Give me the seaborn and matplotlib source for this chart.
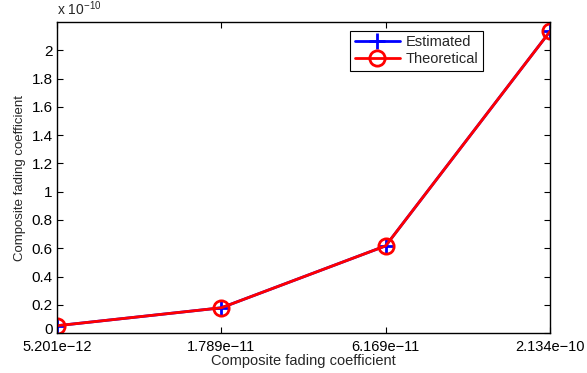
import matplotlib
matplotlib.use("Agg")
import matplotlib.pyplot as plt
import matplotlib.transforms as mtransforms
import seaborn as sns
import numpy as np

sns.set_style("white")
plt.rcParams['font.family'] = ['Liberation Sans', 'DejaVu Sans']
plt.rcParams['mathtext.fontset'] = 'custom'
plt.rcParams['mathtext.rm'] = 'Liberation Sans'

categories = ["5.201e\u221212", "1.789e\u221211", "6.169e\u221211", "2.134e\u221210"]
estimated = [5.201e-12, 1.789e-11, 6.169e-11, 2.134e-10]
theoretical = [5.201e-12, 1.789e-11, 6.169e-11, 2.134e-10]
scale = 1e-10
yticks = [0, 0.2, 0.4, 0.6, 0.8, 1, 1.2, 1.4, 1.6, 1.8, 2]
ytick_labels = ["0", "0.2", "0.4", "0.6", "0.8", "1", "1.2", "1.4", "1.6", "1.8", "2"]

fig = plt.figure(figsize=(5.87, 3.73), dpi=100)
ax = fig.add_axes([0.097, 0.107, 0.840, 0.834])

pos = np.arange(1, len(categories) + 1)
sns.lineplot(x=pos, y=np.array(estimated) / scale, ax=ax, color='blue', lw=2,
             marker='+', markersize=12, markeredgewidth=2, markeredgecolor='blue',
             label='Estimated', sort=False)
sns.lineplot(x=pos, y=np.array(theoretical) / scale, ax=ax, color='red', lw=2,
             marker='o', markersize=11, markeredgewidth=2, markerfacecolor='none',
             markeredgecolor='red', label='Theoretical', sort=False)

ax.set_xlim(1, 4)
ax.set_ylim(0, 2.2)
ax.set_xticks(pos)
ax.set_xticklabels(categories, fontsize=10.5)
ax.set_yticks(yticks)
ax.set_yticklabels(ytick_labels, fontsize=11)
ax.tick_params(direction='in', length=4, width=0.8, top=True, right=True,
               bottom=True, left=True, labeltop=False, labelright=False, pad=3, colors='black')
ax.tick_params(axis='x', pad=5)
for s in ax.spines.values():
    s.set_visible(True)
    s.set_color('black')
    s.set_linewidth(1.0)

# nudge the "0" y tick label up slightly so it doesn't collide with the first x label
zero_lbl = ax.get_yticklabels()[0]
zero_lbl.set_transform(zero_lbl.get_transform() +
                       mtransforms.ScaledTranslation(0, 3 / 72, fig.dpi_scale_trans))

ax.set_xlabel("Composite fading coefficient", fontsize=10.5, labelpad=0)
ax.set_ylabel("Composite fading coefficient", fontsize=9.5, labelpad=4)
ax.text(0.0, 1.012, r"x 10$^{-10}$", transform=ax.transAxes, fontsize=10,
        ha='left', va='bottom')

leg = ax.legend(loc='upper right', bbox_to_anchor=(0.864, 0.971), fontsize=10.5,
                frameon=True, fancybox=False, edgecolor='black', framealpha=1,
                handlelength=3.1, borderpad=0.3, labelspacing=0.2, handletextpad=0.4,
                borderaxespad=0)
leg.get_frame().set_linewidth(0.8)

fig.savefig("out.png", dpi=100)
